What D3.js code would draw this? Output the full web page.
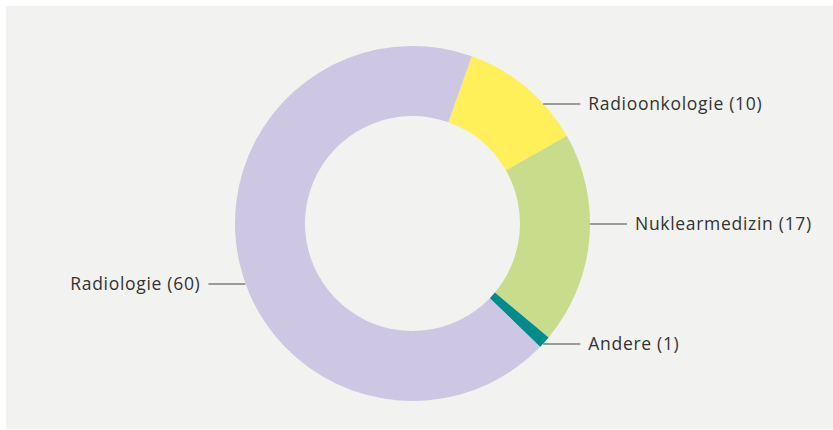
<!DOCTYPE html>
<meta charset="utf-8">
<style>
body { margin: 0; background: #fff; }
.label { font-family: "Open Sans", sans-serif; font-size: 17.5px; letter-spacing: 0.7px; fill: #333; }
.leader { stroke: #444; stroke-width: 1; }
</style>
<svg width="833" height="430"></svg>
<script src="https://d3js.org/d3.v7.min.js"></script>
<script>

var categories = ["Radioonkologie", "Nuklearmedizin", "Andere", "Radiologie"],
    values = [10, 17, 1, 60],
    colors = ["#fff05a", "#c8dc8c", "#008c8a", "#cdc7e4"];

var svg = d3.select("svg"),
    cx = 412.5, cy = 223.5,
    outerR = 177.5, innerR = 107.5,
    rowStep = 60;

svg.append("rect")
    .attr("x", 6).attr("y", 6)
    .attr("width", 827).attr("height", 423)
    .attr("fill", "#f2f2f0");

var data = categories.map(function(c, i) { return {name: c, value: values[i], color: colors[i]}; });

var offset = 19.5 * Math.PI / 180;
var pie = d3.pie()
    .sort(null)
    .value(function(d) { return d.value; })
    .startAngle(offset)
    .endAngle(offset + 2 * Math.PI);

var arc = d3.arc().innerRadius(innerR).outerRadius(outerR);

var g = svg.append("g").attr("transform", "translate(" + cx + "," + cy + ")");

var arcs = pie(data);

g.selectAll(".slice")
  .data(arcs)
  .enter().append("path")
    .attr("class", "slice")
    .attr("d", arc)
    .attr("fill", function(d) { return d.data.color; });

// labels snap to rows of 60px, leader starts on the outer edge
arcs.forEach(function(d) {
  var mid = (d.startAngle + d.endAngle) / 2;
  var y = Math.round(-Math.cos(mid) * outerR / rowStep) * rowStep;
  var right = Math.sin(mid) > 0;
  var x0 = Math.sqrt(outerR * outerR - y * y) * (right ? 1 : -1);
  var x1 = x0 + (right ? 37 : -37);
  g.append("line")
      .attr("class", "leader")
      .attr("x1", x0).attr("y1", y + 0.5)
      .attr("x2", x1).attr("y2", y + 0.5);
  g.append("text")
      .attr("class", "label")
      .attr("x", x1 + (right ? 8 : -8))
      .attr("y", y)
      .attr("dy", "0.35em")
      .attr("text-anchor", right ? "start" : "end")
      .text(d.data.name + " (" + d.data.value + ")");
});

</script>
